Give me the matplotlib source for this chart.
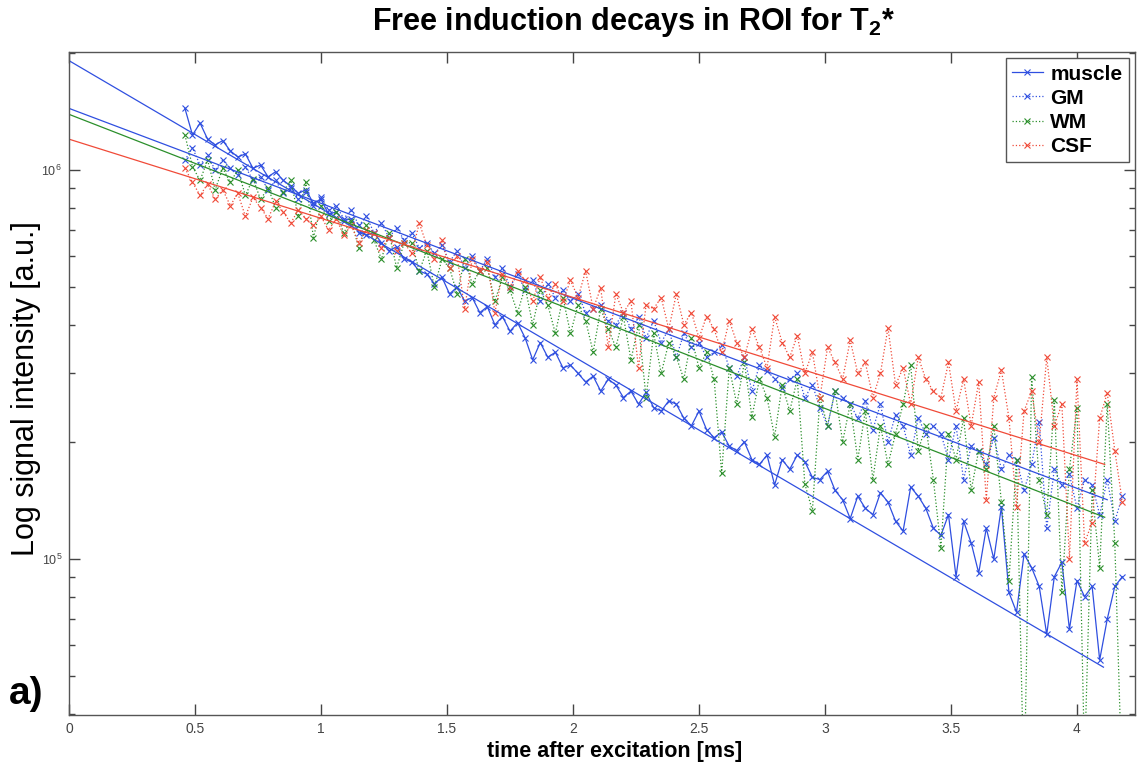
"""
plot.py

Free induction decays (T2*) in four ROIs, log signal vs time after
excitation, with a mono-exponential fit line per tissue.
"""

import numpy as np
import matplotlib
matplotlib.use("Agg")
import matplotlib.pyplot as plt
from matplotlib.ticker import FixedLocator, FormatStrFormatter, LogLocator, NullFormatter

plt.rcParams["font.family"] = ["Liberation Sans", "DejaVu Sans"]
plt.rcParams["mathtext.fontset"] = "custom"
plt.rcParams["mathtext.rm"] = "Liberation Sans"
plt.rcParams["mathtext.bf"] = "Liberation Sans:bold"

# sampling times [ms] of the FID (0.46 .. 4.18 ms)
T_START, T_STEP, N_SAMPLES = 0.46, 0.03, 125
time_ms = np.round(T_START + T_STEP * np.arange(N_SAMPLES), 2)

SCALE = 1e5   # series below are in units of 1e5 a.u.

muscle = [
    14.4, 12.3, 13.2, 12.0, 11.6, 11.9, 11.2, 10.8, 11.0, 10.1,
    10.3, 9.6, 9.9, 9.4, 9.1, 8.7, 8.9, 8.2, 8.4, 7.7,
    7.8, 7.4, 7.5, 6.9, 6.8, 6.9, 6.5, 6.2, 6.35, 5.9,
    5.8, 5.5, 5.4, 5.1, 5.3, 4.8, 5.0, 4.6, 4.7, 4.3,
    4.45, 4.0, 4.2, 3.85, 4.05, 3.7, 3.25, 3.6, 3.3, 3.4,
    3.1, 3.15, 3.0, 2.85, 2.95, 2.7, 2.9, 2.8, 2.6, 2.7,
    2.5, 2.68, 2.45, 2.4, 2.55, 2.5, 2.3, 2.2, 2.4, 2.15,
    2.05, 2.12, 1.95, 1.9, 2.0, 1.8, 1.75, 1.85, 1.55, 1.8,
    1.7, 1.85, 1.78, 1.62, 1.6, 1.68, 1.5, 1.42, 1.27, 1.45,
    1.35, 1.3, 1.48, 1.4, 1.25, 1.18, 1.53, 1.45, 1.35, 1.2,
    1.15, 1.3, 0.9, 1.25, 1.1, 0.92, 1.2, 1.0, 1.36, 0.82,
    0.73, 1.03, 0.95, 0.85, 0.64, 0.9, 0.98, 0.66, 0.88, 0.8,
    0.85, 0.55, 0.7, 0.85, 0.9,
]

gm = [
    10.6, 11.4, 10.3, 10.9, 10.0, 10.6, 10.1, 9.7, 10.2, 9.4,
    9.6, 8.9, 9.4, 8.7, 9.0, 8.4, 8.8, 8.1, 8.5, 7.9,
    8.1, 7.5, 7.9, 7.2, 7.6, 6.9, 7.3, 6.7, 7.1, 6.6,
    6.9, 6.3, 6.5, 6.1, 6.4, 5.8, 6.2, 5.6, 6.0, 5.5,
    5.9, 5.3, 5.6, 5.0, 5.4, 4.9, 5.2, 4.6, 5.1, 4.7,
    4.9, 4.6, 4.8, 4.3, 4.4, 4.5, 4.1, 4.0, 4.3, 3.9,
    4.2, 3.7, 4.1, 3.6, 3.9, 3.3, 3.8, 3.5, 3.6, 3.3,
    3.4, 3.55, 3.1, 2.95, 3.3, 2.7, 3.15, 3.05, 2.9, 2.75,
    2.9, 3.0, 2.6, 2.8, 2.45, 2.2, 2.7, 2.6, 2.5, 2.3,
    2.55, 2.15, 2.5, 2.0, 2.35, 2.2, 1.85, 2.3, 2.1, 2.2,
    2.1, 1.8, 2.2, 1.6, 1.95, 1.9, 1.75, 2.05, 1.7, 1.85,
    1.8, 1.5, 1.75, 2.25, 1.2, 1.7, 1.55, 1.65, 1.35, 1.6,
    1.55, 1.3, 1.6, 1.25, 1.45,
]

wm = [
    12.3, 10.2, 9.4, 10.6, 8.9, 10.1, 9.3, 10.0, 8.6, 9.5,
    8.4, 9.0, 8.0, 8.8, 9.4, 7.6, 9.3, 6.7, 8.1, 7.4,
    7.8, 6.9, 7.4, 6.3, 7.2, 6.6, 5.9, 6.9, 5.6, 6.5,
    6.5, 5.5, 6.2, 5.0, 5.9, 5.6, 4.8, 5.9, 5.1, 5.5,
    5.6, 4.6, 5.3, 4.9, 4.3, 5.0, 4.0, 4.9, 4.5, 3.8,
    4.7, 3.8, 4.5, 4.1, 3.4, 4.4, 3.9, 3.5, 4.2, 3.25,
    4.0, 2.6, 3.8, 3.0, 3.6, 3.3, 2.9, 3.7, 3.1, 3.4,
    2.9, 1.66, 3.1, 2.5, 3.2, 2.32, 2.9, 2.6, 2.06, 2.8,
    2.4, 2.9, 1.56, 1.33, 2.6, 2.2, 2.7, 2.0, 2.5, 1.8,
    2.4, 1.6, 2.2, 1.75, 2.1, 2.5, 3.15, 1.9, 2.2, 1.6,
    1.07, 2.1, 1.8, 2.3, 1.5, 1.9, 1.7, 2.2, 1.4, 0.88,
    1.8, 0.25, 2.94, 1.6, 1.3, 2.56, 0.82, 1.7, 2.44, 0.3,
    1.5, 0.95, 2.5, 1.1, 0.25,
]

csf = [
    10.1, 9.3, 8.6, 9.2, 8.4, 8.9, 8.1, 8.7, 7.6, 8.5,
    8.0, 7.5, 8.3, 7.8, 7.3, 7.9, 7.5, 7.2, 7.6, 7.0,
    7.5, 6.8, 7.2, 6.5, 7.0, 6.9, 6.3, 6.7, 6.2, 6.5,
    6.1, 7.3, 6.4, 5.9, 6.6, 5.6, 6.0, 4.4, 5.9, 5.5,
    5.8, 4.3, 5.4, 5.0, 5.5, 5.2, 4.6, 5.3, 4.7, 5.1,
    4.6, 5.2, 4.7, 5.5, 4.4, 4.97, 3.5, 4.8, 4.3, 4.6,
    3.1, 4.5, 4.4, 4.7, 3.9, 4.8, 4.0, 4.3, 3.7, 4.2,
    3.9, 3.4, 4.1, 3.6, 3.3, 3.9, 3.5, 3.1, 4.2, 3.6,
    3.3, 3.75, 3.0, 3.4, 2.6, 3.5, 3.2, 2.9, 3.65, 3.0,
    3.2, 2.6, 3.0, 3.93, 2.8, 3.1, 2.5, 3.3, 2.9, 2.7,
    2.6, 3.2, 2.4, 2.9, 2.2, 2.85, 1.42, 2.6, 3.06, 2.3,
    1.36, 2.4, 2.7, 2.0, 3.3, 2.2, 2.5, 1.0, 2.9, 1.1,
    1.24, 2.3, 2.67, 1.9, 1.4,
]

# mono-exponential fits, drawn from t=0 to the last fitted sample
fit_t = {"muscle": [0.0, 4.105], "GM": [0.0, 4.12], "WM": [0.0, 4.11], "CSF": [0.0, 4.11]}
fit_s = {"muscle": [19.1, 0.527], "GM": [14.4, 1.42], "WM": [13.9, 1.28], "CSF": [12.0, 1.75]}

BLUE = "#2f4fe0"
GREEN = "#2b8f2b"
RED = "#f04a38"

series = [
    ("muscle", muscle, BLUE, "-"),
    ("GM", gm, BLUE, ":"),
    ("WM", wm, GREEN, ":"),
    ("CSF", csf, RED, ":"),
]

fig = plt.figure(figsize=(11.37, 7.72), dpi=100)
ax = fig.add_axes([0.0607, 0.0738, 0.9375, 0.8588])
ax.set_yscale("log")

handles = []
for name, vals, color, ls in series:
    h, = ax.plot(time_ms, np.array(vals) * SCALE, ls=ls, color=color, lw=0.9,
                 marker="x", ms=4.5, mew=0.8, label=name)
    handles.append(h)

for name, _, color, _ in series:
    ax.plot(fit_t[name], np.array(fit_s[name]) * SCALE, "-", color=color, lw=0.9)

ax.set_xlim(0, 4.23)
ax.set_ylim(3.97e4, 2.01e6)

ax.xaxis.set_major_locator(FixedLocator([0, 0.5, 1, 1.5, 2, 2.5, 3, 3.5, 4]))
ax.xaxis.set_major_formatter(FormatStrFormatter("%g"))
ax.yaxis.set_major_locator(LogLocator(base=10))
ax.yaxis.set_minor_locator(LogLocator(base=10, subs=np.arange(2, 10)))
ax.yaxis.set_minor_formatter(NullFormatter())

ax.tick_params(which="both", direction="in", top=True, right=True,
               color="#444444", labelcolor="#444444", width=1)
ax.tick_params(which="major", length=8, pad=5)
ax.tick_params(which="minor", length=4)
ax.tick_params(axis="x", labelsize=10)
ax.tick_params(axis="y", labelsize=9)
for sp in ax.spines.values():
    sp.set_color("#555555")
    sp.set_linewidth(1)

leg = ax.legend(handles=handles, loc="upper right", borderaxespad=0.3,
                prop={"weight": "bold", "size": 15}, fancybox=False,
                edgecolor="#555555", framealpha=1, handlelength=1.5,
                handletextpad=0.35, labelspacing=0.25, borderpad=0.3)
leg.get_frame().set_linewidth(1)

fig.text(0.5576, 0.972, r"Free induction decays in ROI for T$_\mathbf{2}$*",
         ha="center", va="center", fontsize=22, fontweight="bold")
fig.text(0.541, 0.026, "time after excitation [ms]", ha="center", va="center",
         fontsize=15.5, fontweight="bold")
fig.text(0.023, 0.497, "Log signal intensity [a.u.]", ha="center", va="center",
         rotation=90, fontsize=22)
fig.text(0.008, 0.088, "a)", ha="left", va="baseline", fontsize=28, fontweight="bold")

fig.savefig("out.png", dpi=100)
